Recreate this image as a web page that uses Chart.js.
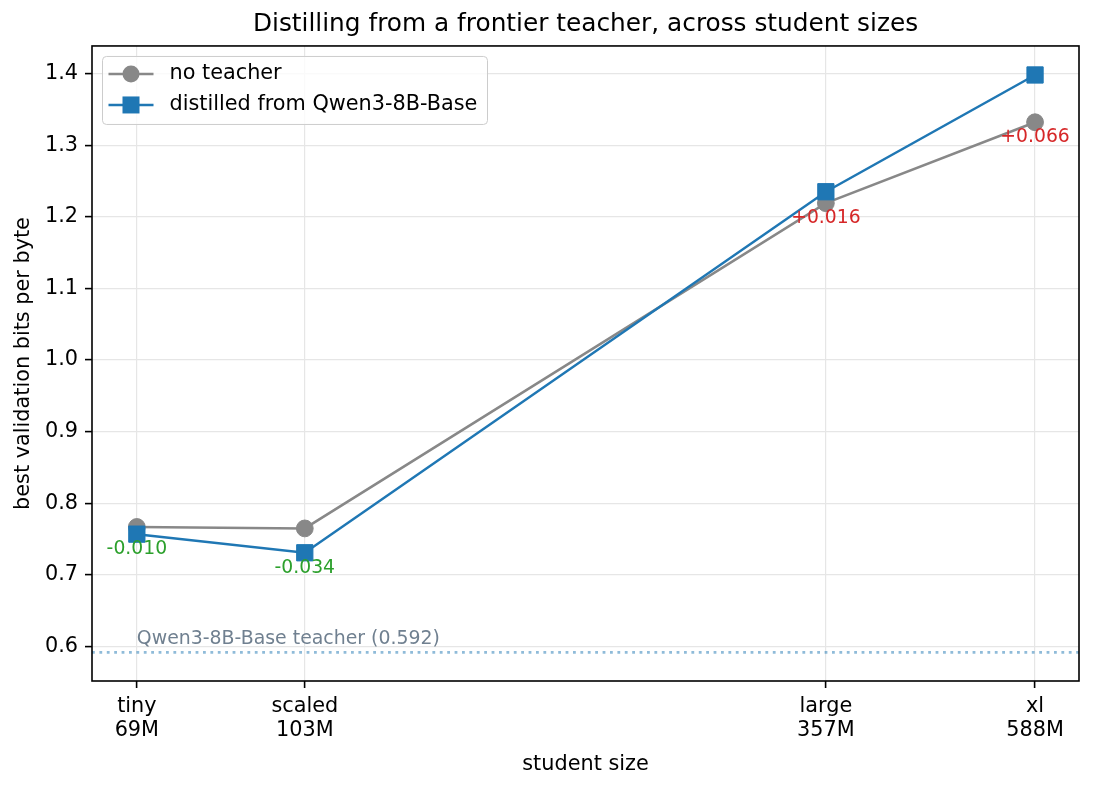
<!DOCTYPE html>
<html>
<head>
<meta charset="utf-8">
<script src="https://cdn.jsdelivr.net/npm/chart.js@4/dist/chart.umd.min.js"></script>
<style>
  html, body { margin: 0; padding: 0; background: #fff; }
  canvas { display: block; }
</style>
</head>
<body>
<canvas id="grafico" width="1095" height="790"></canvas>
<script>
// Tamanhos dos alunos (parâmetros, milhões)
const studentNames = ['tiny', 'scaled', 'large', 'xl'];
const studentParams = [69, 103, 357, 588];
const paramLabels = ['69M', '103M', '357M', '588M'];

// Melhor bits por byte de validação
const noTeacher = [0.767, 0.765, 1.219, 1.332];
const distilled = [0.757, 0.731, 1.235, 1.398];

const teacherName = 'Qwen3-8B-Base';
const teacherBpb = 0.592;

const yTicks = [0.6, 0.7, 0.8, 0.9, 1.0, 1.1, 1.2, 1.3, 1.4];

const FONT = 'DejaVu Sans';
const GREY = '#888888';
const BLUE = '#1f77b4';

document.addEventListener('DOMContentLoaded', function() {
    const ctx = document.getElementById('grafico').getContext('2d');

    const pontos = serie => studentParams.map((p, i) => ({ x: p, y: serie[i] }));

    // linha do professor + rótulo (abaixo das séries)
    const professorPlugin = {
        id: 'professor',
        beforeDatasetsDraw(chart) {
            const { ctx, chartArea, scales } = chart;
            const y = scales.y.getPixelForValue(teacherBpb);
            ctx.save();
            ctx.beginPath();
            ctx.setLineDash([2.8, 4.6]);
            ctx.strokeStyle = 'rgba(31,119,180,0.5)';
            ctx.lineWidth = 2.8;
            ctx.moveTo(chartArea.left, y);
            ctx.lineTo(chartArea.right, y);
            ctx.stroke();
            ctx.setLineDash([]);
            ctx.fillStyle = '#708090';
            ctx.font = `18.9px "${FONT}"`;
            ctx.textAlign = 'left';
            ctx.textBaseline = 'alphabetic';
            ctx.fillText(`${teacherName} teacher (${teacherBpb.toFixed(3)})`,
                scales.x.getPixelForValue(studentParams[0]), y - 8);
            ctx.restore();
        },
        afterDatasetsDraw(chart) {
            // diferenças anotadas abaixo do ponto mais baixo
            const { ctx, scales } = chart;
            ctx.save();
            ctx.font = `18.75px "${FONT}"`;
            ctx.textAlign = 'center';
            ctx.textBaseline = 'middle';
            studentParams.forEach((p, i) => {
                const delta = distilled[i] - noTeacher[i];
                const texto = (delta > 0 ? '+' : '') + delta.toFixed(3);
                const x = scales.x.getPixelForValue(p);
                const y = scales.y.getPixelForValue(Math.min(distilled[i], noTeacher[i])) + 15;
                ctx.fillStyle = delta < 0 ? '#2ca02c' : '#d62728';
                ctx.fillText(texto, x, y);
            });
            ctx.restore();
        },
        afterDraw(chart) {
            const { ctx, chartArea } = chart;
            ctx.save();
            // moldura
            ctx.strokeStyle = '#000';
            ctx.lineWidth = 1.6;
            ctx.strokeRect(chartArea.left, chartArea.top,
                chartArea.right - chartArea.left, chartArea.bottom - chartArea.top);

            // legenda
            const bx = chartArea.left + 10.5, by = chartArea.top + 10.5;
            ctx.beginPath();
            ctx.roundRect(bx, by, 385, 68, 4);
            ctx.fillStyle = 'rgba(255,255,255,0.8)';
            ctx.fill();
            ctx.strokeStyle = '#cccccc';
            ctx.lineWidth = 1;
            ctx.stroke();

            chart.data.datasets.forEach((ds, i) => {
                const cy = by + 17.5 + i * 31;
                ctx.beginPath();
                ctx.strokeStyle = ds.borderColor;
                ctx.lineWidth = ds.borderWidth;
                ctx.moveTo(bx + 6, cy);
                ctx.lineTo(bx + 51, cy);
                ctx.stroke();
                ctx.fillStyle = ds.borderColor;
                if (ds.pointStyle === 'rect') {
                    ctx.fillRect(bx + 28.5 - 8.5, cy - 8.5, 17, 17);
                } else {
                    ctx.beginPath();
                    ctx.arc(bx + 28.5, cy, 8.5, 0, Math.PI * 2);
                    ctx.fill();
                }
                ctx.fillStyle = '#000';
                ctx.font = `20.8px "${FONT}"`;
                ctx.textAlign = 'left';
                ctx.textBaseline = 'middle';
                ctx.fillText(ds.label, bx + 67, cy);
            });
            ctx.restore();
        }
    };

    const fonteEixo = { family: FONT, size: 20.8 };

    new Chart(ctx, {
        type: 'line',
        data: {
            datasets: [
                {
                    label: 'no teacher',
                    data: pontos(noTeacher),
                    borderColor: GREY,
                    backgroundColor: GREY,
                    pointBackgroundColor: GREY,
                    pointBorderColor: GREY,
                    borderWidth: 2.5,
                    pointStyle: 'circle',
                    pointRadius: 8.4,
                    pointBorderWidth: 1,
                    tension: 0,
                    order: 2
                },
                {
                    label: `distilled from ${teacherName}`,
                    data: pontos(distilled),
                    borderColor: BLUE,
                    backgroundColor: BLUE,
                    pointBackgroundColor: BLUE,
                    pointBorderColor: BLUE,
                    borderWidth: 2.5,
                    pointStyle: 'rect',
                    pointRadius: 11.5,
                    pointBorderWidth: 1,
                    tension: 0,
                    order: 1
                }
            ]
        },
        options: {
            responsive: false,
            animation: false,
            devicePixelRatio: 1,
            layout: { padding: { left: 0, right: 16, top: 0, bottom: 0 } },
            plugins: {
                legend: { display: false },
                tooltip: { enabled: false },
                title: {
                    display: true,
                    fullSize: false,
                    text: 'Distilling from a frontier teacher, across student sizes',
                    color: '#000',
                    font: { family: FONT, size: 24.8, weight: 'normal', lineHeight: 1.2 },
                    padding: { top: 9.4, bottom: 6.8 }
                }
            },
            scales: {
                x: {
                    type: 'logarithmic',
                    min: 62,
                    max: 653,
                    afterBuildTicks: s => { s.ticks = studentParams.map(v => ({ value: v })); },
                    afterFit: s => { s.height = 109; },
                    ticks: {
                        callback: (v, i) => [studentNames[i], paramLabels[i]],
                        font: { family: FONT, size: 20.8, lineHeight: 1.15 },
                        color: '#000',
                        padding: 7,
                        maxRotation: 0,
                        autoSkip: false
                    },
                    grid: { color: '#e6e6e6', lineWidth: 1.2, tickColor: '#000', tickLength: 7, tickWidth: 1.6 },
                    border: { display: false },
                    title: {
                        display: true,
                        text: 'student size',
                        color: '#000',
                        font: fonteEixo,
                        padding: { top: 0, bottom: 12.5 }
                    }
                },
                y: {
                    min: 0.552,
                    max: 1.4385,
                    afterBuildTicks: s => { s.ticks = yTicks.map(v => ({ value: v })); },
                    afterFit: s => { s.width = 92; },
                    ticks: {
                        callback: v => v.toFixed(1),
                        font: fonteEixo,
                        color: '#000',
                        padding: 7
                    },
                    grid: { color: '#e6e6e6', lineWidth: 1.2, tickColor: '#000', tickLength: 7, tickWidth: 1.6 },
                    border: { display: false },
                    title: {
                        display: true,
                        text: 'best validation bits per byte',
                        color: '#000',
                        font: fonteEixo,
                        padding: { top: 11.5, bottom: 0 }
                    }
                }
            }
        },
        plugins: [professorPlugin]
    });
});
</script>
</body>
</html>
